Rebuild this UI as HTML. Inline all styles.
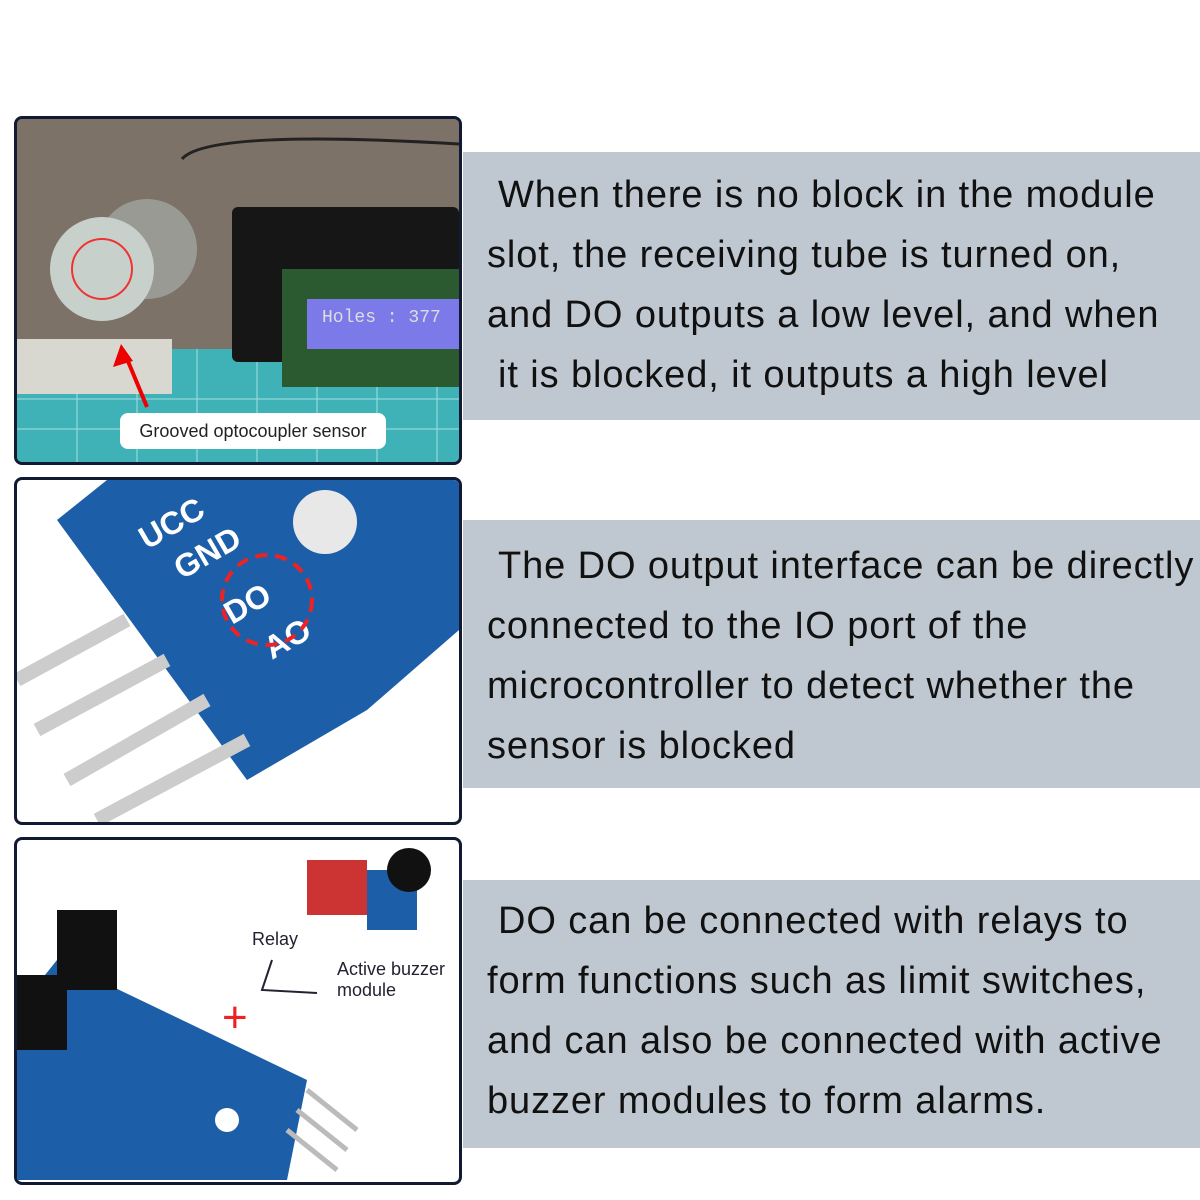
<!DOCTYPE html>
<html><head><meta charset="utf-8"><style>
body{margin:0;width:1200px;height:1200px;background:#fff;position:relative;overflow:hidden;font-family:"Liberation Sans",Arial,sans-serif}
.box{position:absolute;left:463px;width:737px;height:268px;background:#bfc8d1;color:#111;font-size:38px;letter-spacing:0.9px;line-height:60px}
.box div{position:absolute;white-space:nowrap}
.p{position:absolute;left:14px;width:442px;border:3px solid #111a33;border-radius:8px;overflow:hidden}
</style></head><body>
<div class="box" style="top:152px"><div style="left:35px;top:13px">When there is no block in the module</div><div style="left:24px;top:73px">slot, the receiving tube is turned on,</div><div style="left:24px;top:133px">and DO outputs a low level, and when</div><div style="left:35px;top:193px">it is blocked, it outputs a high level</div></div>
<div class="box" style="top:520px"><div style="left:35px;top:16px">The DO output interface can be directly</div><div style="left:24px;top:76px">connected to the IO port of the</div><div style="left:24px;top:136px">microcontroller to detect whether the</div><div style="left:24px;top:196px">sensor is blocked</div></div>
<div class="box" style="top:880px"><div style="left:35px;top:11px">DO can be connected with relays to</div><div style="left:24px;top:71px">form functions such as limit switches,</div><div style="left:24px;top:131px">and can also be connected with active</div><div style="left:24px;top:191px">buzzer modules to form alarms.</div></div>

<div class="p" style="top:116px;height:343px;background:#8a8076">
<svg width="442" height="343">
<rect width="442" height="343" fill="#7d7268"/>
<rect y="230" width="442" height="113" fill="#3fb2b8"/>
<path d="M0 280H442M0 310H442M60 230V343M120 230V343M180 230V343M240 230V343M300 230V343M360 230V343M420 230V343" stroke="#9fe0e2" stroke-width="1"/>
<rect x="0" y="220" width="155" height="55" fill="#d8d8d0"/>
<circle cx="130" cy="130" r="50" fill="#9a9a94"/>
<circle cx="85" cy="150" r="52" fill="#c8d0cc"/>
<circle cx="85" cy="150" r="30" fill="none" stroke="#e33" stroke-width="2"/>
<rect x="215" y="88" width="227" height="155" fill="#161616" rx="6"/>
<rect x="265" y="150" width="177" height="118" fill="#2b5a30"/>
<rect x="290" y="180" width="152" height="50" fill="#7c7ae8"/>
<text x="305" y="203" font-family="Liberation Mono" font-size="18" fill="#ddd">Holes : 377</text>
<path d="M130 288 L108 235" stroke="#e00" stroke-width="4"/>
<path d="M104 225 L96 248 L116 242Z" fill="#e00"/>
<path d="M165 40 Q190 10 442 25" stroke="#222" stroke-width="3" fill="none"/>
<rect x="103" y="294" width="266" height="36" rx="8" fill="#fff"/>
<text x="236" y="318" text-anchor="middle" font-size="18" fill="#222">Grooved optocoupler sensor</text>
</svg></div>

<div class="p" style="top:477px;height:342px;background:#fff">
<svg width="442" height="342">
<path d="M90 0 L442 0 L442 150 L350 230 L230 300 L40 40 Z" fill="#1c5fa8"/>
<circle cx="308" cy="42" r="32" fill="#e8e8e8"/>
<text x="130" y="70" font-size="32" font-weight="bold" fill="#fff" transform="rotate(-30 130 70)">UCC</text>
<text x="165" y="100" font-size="32" font-weight="bold" fill="#fff" transform="rotate(-30 165 100)">GND</text>
<text x="215" y="145" font-size="32" font-weight="bold" fill="#fff" transform="rotate(-30 215 145)">DO</text>
<text x="255" y="180" font-size="32" font-weight="bold" fill="#fff" transform="rotate(-30 255 180)">AO</text>
<circle cx="250" cy="120" r="45" fill="none" stroke="#e22" stroke-width="4" stroke-dasharray="12 8"/>
<path d="M110 140 L0 200M150 180 L20 250M190 220 L50 300M230 260 L80 340" stroke="#ccc" stroke-width="14"/>
</svg></div>

<div class="p" style="top:837px;height:342px;background:#fff">
<svg width="442" height="342">
<path d="M0 170 L40 120 L290 240 L270 340 L0 340Z" fill="#1c5fa8"/>
<rect x="40" y="70" width="60" height="80" fill="#111"/>
<rect x="0" y="135" width="50" height="75" fill="#111"/>
<path d="M290 250 L340 290M280 270 L330 310M270 290 L320 330" stroke="#bbb" stroke-width="5"/>
<circle cx="210" cy="280" r="12" fill="#fff"/>
<rect x="290" y="20" width="60" height="55" fill="#c33"/>
<rect x="350" y="30" width="50" height="60" fill="#1c5fa8"/>
<circle cx="392" cy="30" r="22" fill="#111"/>
<text x="235" y="105" font-size="18" fill="#223">Relay</text>
<text x="320" y="135" font-size="18" fill="#223">Active buzzer</text>
<text x="320" y="156" font-size="18" fill="#223">module</text>
<path d="M255 120 L245 150 L300 153" stroke="#223" stroke-width="2" fill="none"/>
<text x="205" y="192" font-size="44" fill="#e22">+</text>
</svg></div>
</body></html>
